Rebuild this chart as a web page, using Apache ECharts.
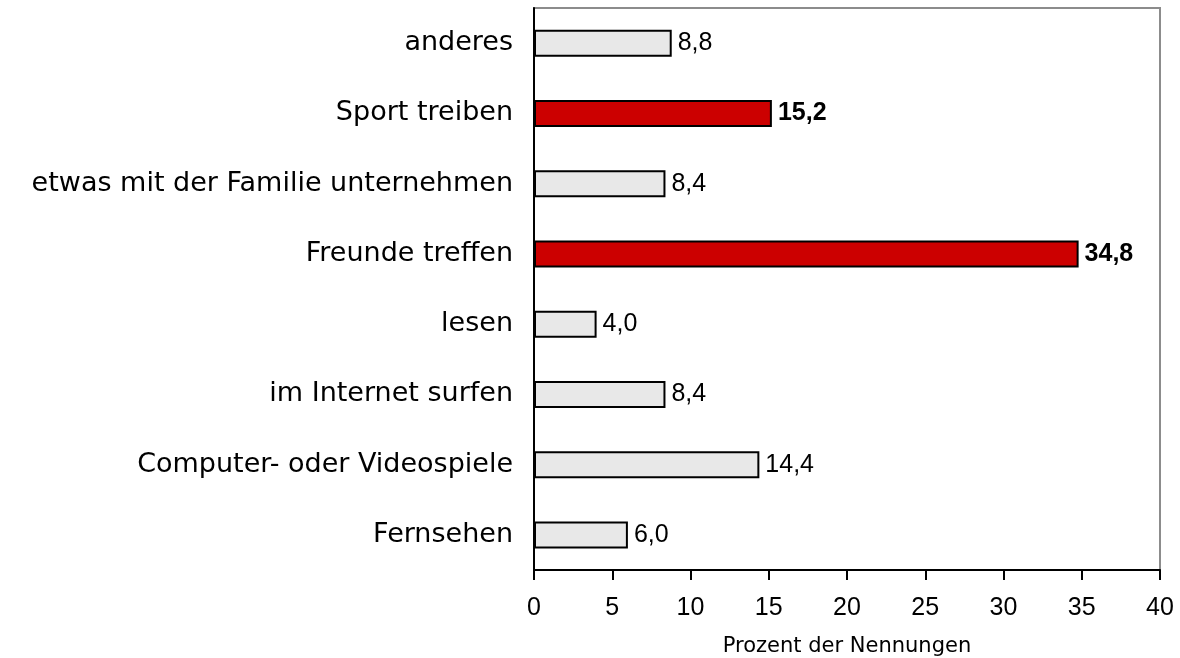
<!DOCTYPE html>
<html>
<head>
<meta charset="utf-8">
<script src="https://cdn.jsdelivr.net/npm/echarts@6/dist/echarts.min.js"></script>
<style>
  html, body { margin: 0; padding: 0; background: #fff; }
  #chart { width: 1180px; height: 658px; }
</style>
</head>
<body>
<div id="chart"></div>
<script>
  // bottom to top, as on the y axis
  var categories = ['Fernsehen', 'Computer- oder Videospiele', 'im Internet surfen', 'lesen',
    'Freunde treffen', 'etwas mit der Familie unternehmen', 'Sport treiben', 'anderes']
  var values = [6.0, 14.4, 8.4, 4.0, 34.8, 8.4, 15.2, 8.8]
  var highlighted = ['Freunde treffen', 'Sport treiben']
  var xTicks = [0, 5, 10, 15, 20, 25, 30, 35, 40]

  var arial = '"Liberation Sans", Arial, sans-serif'
  var wide = '"DejaVu Sans", Verdana, sans-serif'

  var seriesData = values.map(function (v, i) {
    var hot = highlighted.indexOf(categories[i]) >= 0
    return {
      value: v,
      itemStyle: { color: hot ? '#cc0000' : '#e8e8e8' },
      label: { fontWeight: hot ? 'bold' : 'normal' }
    }
  })

  var chart = echarts.init(document.getElementById('chart'))
  chart.setOption({
    animation: false,
    grid: {
      left: 534, right: 20, top: 8, bottom: 88,
      outerBoundsMode: 'none',
      containLabel: false,
      show: true, borderColor: '#8c8c8c', borderWidth: 2, backgroundColor: 'transparent'
    },
    xAxis: {
      type: 'value',
      min: xTicks[0],
      max: xTicks[xTicks.length - 1],
      interval: 5,
      name: 'Prozent der Nennungen',
      nameLocation: 'middle',
      nameGap: 66,
      nameTextStyle: { fontFamily: wide, fontSize: 21, color: '#000' },
      axisLine: { show: true, lineStyle: { color: '#000', width: 2 } },
      axisTick: { show: true, length: 10, lineStyle: { color: '#000', width: 2 } },
      axisLabel: { margin: 26, fontFamily: arial, fontSize: 25, color: '#000' },
      splitLine: { show: false }
    },
    yAxis: {
      type: 'category',
      data: categories,
      axisLine: { show: true, lineStyle: { color: '#000', width: 2 } },
      axisTick: { show: false },
      axisLabel: { margin: 21, fontFamily: wide, fontSize: 27, color: '#000' }
    },
    series: [{
      type: 'bar',
      data: seriesData,
      barWidth: 27,
      itemStyle: { borderColor: '#000', borderWidth: 2 },
      label: {
        show: true,
        position: 'right',
        distance: 6,
        fontFamily: arial,
        fontSize: 25,
        color: '#000',
        formatter: function (p) {
          return p.value.toFixed(1).replace('.', ',')
        }
      }
    }]
  })
</script>
</body>
</html>
